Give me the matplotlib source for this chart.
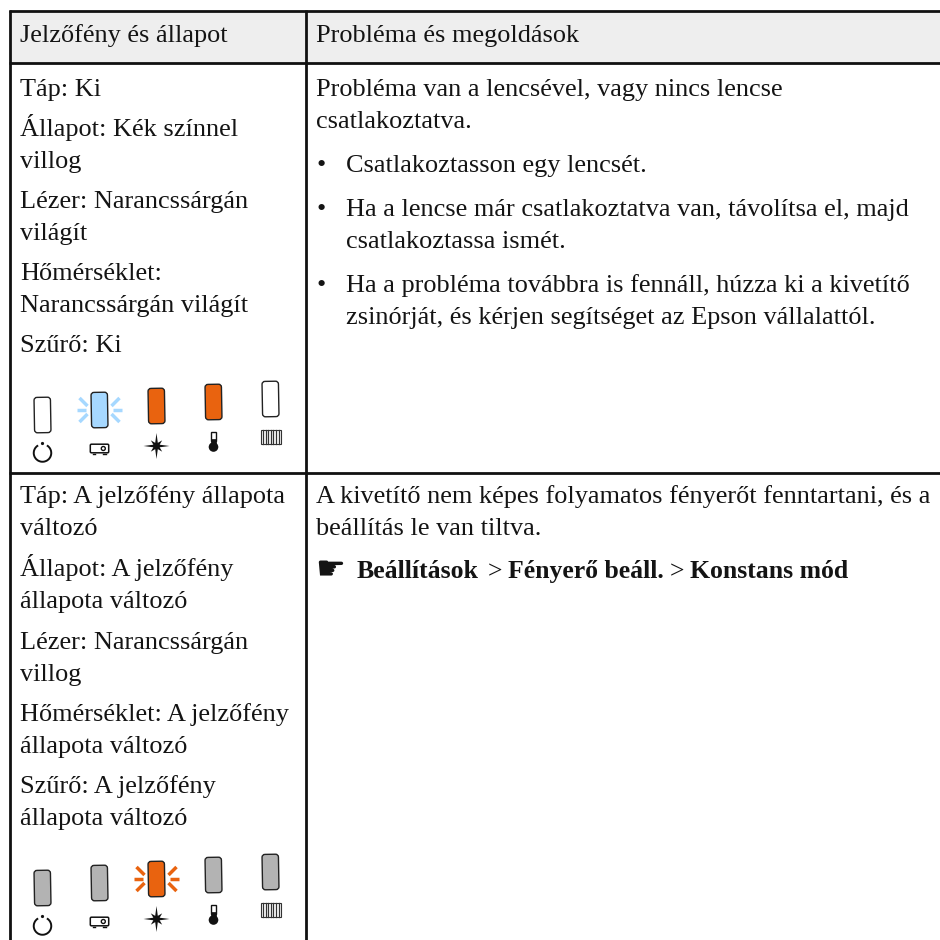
#!/usr/bin/env python
"""Epson jelzőfény táblázat: szöveg + LED ikonok, pixel koordinátákban."""
import matplotlib
matplotlib.use("Agg")
import matplotlib.pyplot as plt
from matplotlib.patches import Circle, Arc, FancyBboxPatch, Rectangle
from matplotlib.transforms import Affine2D
import numpy as np

SERIF = ["Liberation Serif", "DejaVu Serif"]
FS = 18.9
INK = "#141414"
ORANGE, BLUE, GREY = "#e9630f", "#a6d8ff", "#b3b3b3"

header = ["Jelzőfény és állapot", "Probléma és megoldások"]

left_1 = [("Táp: Ki", 96), ("Állapot: Kék színnel", 136), ("villog", 168),
          ("Lézer: Narancssárgán", 208), ("világít", 240), ("Hőmérséklet:", 280),
          ("Narancssárgán világít", 312), ("Szűrő: Ki", 352)]
left_2 = [("Táp: A jelzőfény állapota", 503), ("változó", 535),
          ("Állapot: A jelzőfény", 576), ("állapota változó", 608),
          ("Lézer: Narancssárgán", 649), ("villog", 681),
          ("Hőmérséklet: A jelzőfény", 721), ("állapota változó", 753),
          ("Szűrő: A jelzőfény", 793), ("állapota változó", 825)]
intro_1 = [("Probléma van a lencsével, vagy nincs lencse", 96), ("csatlakoztatva.", 128)]
right_1 = [("Csatlakoztasson egy lencsét.", 172),
           ("Ha a lencse már csatlakoztatva van, távolítsa el, majd", 216),
           ("csatlakoztassa ismét.", 248),
           ("Ha a probléma továbbra is fennáll, húzza ki a kivetítő", 292),
           ("zsinórját, és kérjen segítséget az Epson vállalattól.", 324)]
bullets = [172, 216, 292]
right_2 = [("A kivetítő nem képes folyamatos fényerőt fenntartani, és a", 503),
           ("beállítás le van tiltva.", 535)]
menu_path = [("Beállítások", "bold", 357), (">", "normal", 488), ("Fényerő beáll.", "bold", 508),
             (">", "normal", 670), ("Konstans mód", "bold", 690)]

led_x = [42.5, 99.5, 156.5, 213.5, 270.5]
led_top = [397, 392, 388, 384, 381]
icon_y = [453, 448.5, 446, 442, 437]
row_1_leds = ["white", "blink_blue", "orange", "orange", "white"]
row_2_leds = ["grey", "grey", "blink_orange", "grey", "grey"]
ROW_OFFSET = 473

fig = plt.figure(figsize=(9.4, 9.4), dpi=100)
ax = fig.add_axes([0, 0, 1, 1])
ax.set_xlim(0, 940)
ax.set_ylim(940, 0)
ax.axis("off")

# kereten
ax.add_patch(Rectangle((10, 11), 940, 52, fc="#eeeeee", ec="none"))
for y in [11, 63, 473]:
    ax.plot([9, 940], [y, y], color="#111111", lw=2.0, solid_capstyle="butt")
for x in [10, 306]:
    ax.plot([x, x], [10, 940], color="#111111", lw=2.0, solid_capstyle="butt")


def put(x, y, s, size=FS, **kw):
    return ax.text(x, y, s, fontsize=size, family=SERIF, color=INK, va="baseline", **kw)


put(20, 42, header[0])
put(316, 42, header[1])
for s, y in left_1 + left_2:
    put(20, y, s)
for s, y in intro_1 + right_2:
    put(316, y, s)
for s, y in right_1:
    put(346, y, s)
for y in bullets:
    put(316, y, "•")

# menü sor: kéz + félkövér/normál darabok
ax.text(315, 579, "\u261b", fontsize=24, family="DejaVu Sans", color=INK, va="baseline")
for s, w, x in menu_path:
    put(x, 578, s, size=18.5, fontweight=w)


def led(cx, top, kind):
    fc = {"white": "white", "grey": GREY, "orange": ORANGE, "blink_orange": ORANGE,
          "blink_blue": BLUE}[kind]
    p = FancyBboxPatch((cx - 6.5, top + 2), 13, 32, boxstyle="round,pad=1.7,rounding_size=3",
                       fc=fc, ec="#222222", lw=1.0)
    p.set_transform(Affine2D().rotate_deg_around(cx, top + 18, -1) + ax.transData)
    ax.add_patch(p)
    if kind.startswith("blink"):
        cy = top + 18
        rays = [(13.5, 0, 22.5, 0), (12, 4, 20, 12), (12, -4, 20, -12)]
        for x0, y0, x1, y1 in rays:
            for sx in (-1, 1):
                ax.plot([cx + sx * x0, cx + sx * x1], [cy + y0, cy + y1],
                        color=fc, lw=2.5, solid_capstyle="butt")


def icon(i, x, y):
    k = "#111111"
    if i == 0:  # tápgomb
        ax.add_patch(Arc((x, y), 17.5, 17.5, theta1=-60, theta2=240, ec=k, lw=1.4))
        ax.add_patch(Circle((x, y - 9.5), 1.6, fc=k, ec="none"))
    elif i == 1:  # kivetítő
        ax.add_patch(FancyBboxPatch((x - 8.7, y - 3.8), 17.4, 7.6, boxstyle="round,pad=0.5,rounding_size=1.2",
                                    fc="white", ec=k, lw=1.1))
        ax.add_patch(Circle((x + 3.8, y), 2, fc="white", ec=k, lw=1.0))
        ax.plot([x - 7, x - 4.5], [y + 5.5, y + 5.5], color=k, lw=1)
        ax.plot([x + 3.5, x + 6], [y + 5.5, y + 5.5], color=k, lw=1)
    elif i == 2:  # lézer csillag
        ang = np.radians(np.arange(0, 360, 22.5))
        rad = np.tile([13, 3.4, 8, 3.4], 4)
        ax.fill(x + rad * np.cos(ang), y + rad * np.sin(ang), color=k, lw=0)
    elif i == 3:  # hőmérő
        ax.add_patch(Rectangle((x - 2.4, y - 10.5), 4.8, 9, fc="white", ec=k, lw=1.0))
        ax.add_patch(Rectangle((x - 2.4, y - 3), 4.8, 6, fc=k, ec=k, lw=0.5))
        ax.add_patch(Circle((x, y + 5), 4.8, fc=k, ec="none"))
    else:  # szűrő
        ax.add_patch(Rectangle((x - 10, y - 7), 20, 14, fc="white", ec="#333333", lw=0.8))
        for dx in np.arange(-7.5, 10, 2.6):
            ax.plot([x + dx, x + dx], [y - 7, y + 7], color="#333333", lw=0.9)


for off, kinds in [(0, row_1_leds), (ROW_OFFSET, row_2_leds)]:
    for i, kind in enumerate(kinds):
        led(led_x[i], led_top[i] + off, kind)
        icon(i, led_x[i], icon_y[i] + off)

fig.savefig("out.png", dpi=100)
